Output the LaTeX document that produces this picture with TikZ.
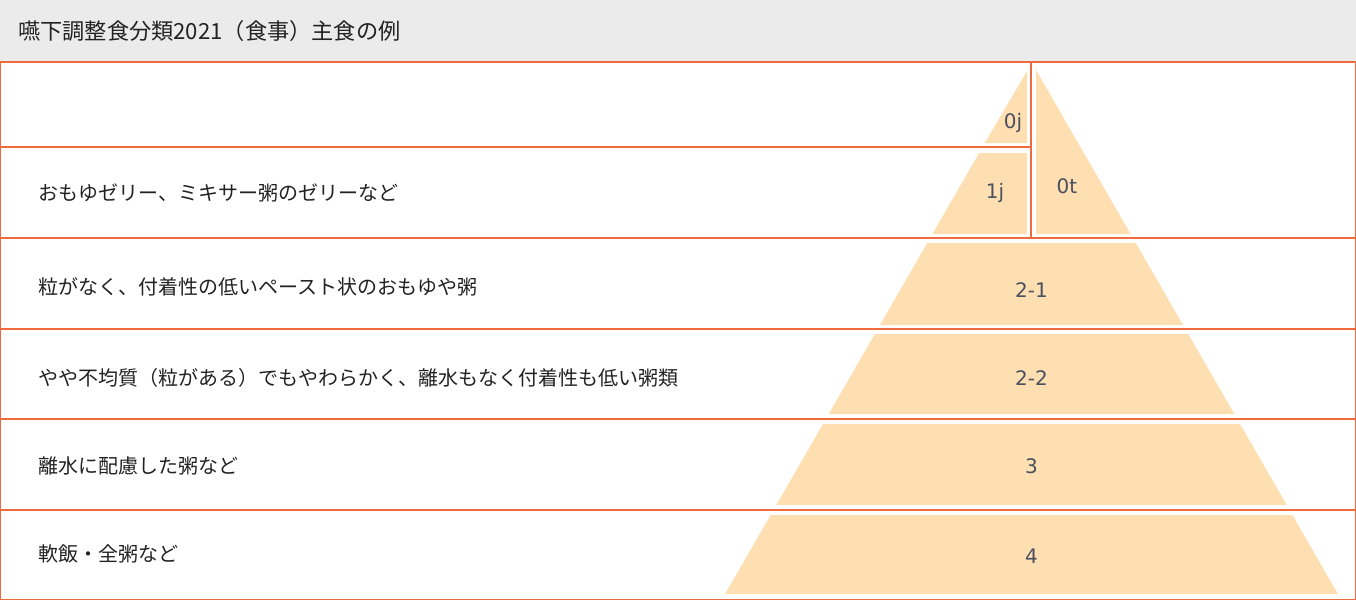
\documentclass[tikz,border=0pt]{standalone}
\usepackage{fontspec}
\newfontfamily\jp{Noto Sans CJK JP}
\newfontfamily\numf{DejaVu Sans}
\definecolor{ln}{HTML}{EF6A3C}
\definecolor{pk}{HTML}{FDDFB1}
\definecolor{tg}{HTML}{EBEBEB}
\definecolor{lb}{HTML}{4A5060}
\definecolor{tx}{HTML}{222222}
\begin{document}
\begin{tikzpicture}[x=1pt,y=-1pt,
  rowline/.style={ln,line width=1.4pt},
  band/.style={fill=pk,draw=none},
  lvl/.style={text=lb,font=\numf\fontsize{20}{20}\selectfont,inner sep=0pt},
  rowtext/.style={anchor=west,text=tx,font=\jp\fontsize{20}{20}\selectfont,inner sep=0pt}]
\useasboundingbox (0,0) rectangle (1356,600);
\fill[tg] (0,0) rectangle (1356,62);
\node[anchor=west,text=tx,font=\jp\fontsize{22.2}{22.2}\selectfont,inner sep=0pt] (title) at (18,31) {嚥下調整食分類2021（食事）主食の例};
% pyramid bands
\fill[band] (1027,71) -- (1027,143) -- (984.8,143) -- cycle;
\fill[band] (1036,70) -- (1036,234) -- (1130.6,234) -- cycle;
\fill[band] (979.1,153) -- (1027,153) -- (1027,234) -- (932.4,234) -- cycle;
\fill[band] (927.2,243) -- (1135.8,243) -- (1183,325) -- (880,325) -- cycle;
\fill[band] (874.8,334) -- (1188.2,334) -- (1234.3,414) -- (828.7,414) -- cycle;
\fill[band] (823,424) -- (1240,424) -- (1286.7,505) -- (776.3,505) -- cycle;
\fill[band] (770.6,515) -- (1292.4,515) -- (1337.9,594) -- (725.1,594) -- cycle;
% grid
\coordinate (tl) at (0.7,62);
\coordinate (br) at (1355.3,599.3);
\draw[rowline] (tl) rectangle (br);
\coordinate (a1) at (0,147);
\coordinate (a2) at (1031,147);
\draw[rowline] (a1) -- (a2);
\coordinate (v1) at (1031,62);
\coordinate (v2) at (1031,238);
\draw[rowline] (v1) -- (v2);
\foreach \yy/\nm in {238/r2,329/r3,419/r4,510/r5}{
  \coordinate (\nm l) at (0,\yy);
  \coordinate (\nm r) at (1356,\yy);
  \draw[rowline] (\nm l) -- (\nm r);
}
% level labels
\node[lvl] (l0j) at (1013,123) {0j};
\node[lvl] (l1j) at (995,193) {1j};
\node[lvl] (l0t) at (1067,186) {0t};
\node[lvl] (l21) at (1031.5,290) {2-1};
\node[lvl] (l22) at (1031.5,378) {2-2};
\node[lvl] (l3) at (1031.5,466) {3};
\node[lvl] (l4) at (1031.5,556) {4};
% row texts
\node[rowtext] (t1) at (38,193) {おもゆゼリー、ミキサー粥のゼリーなど};
\node[rowtext] (t2) at (38,287) {粒がなく、付着性の低いペースト状のおもゆや粥};
\node[rowtext] (t3) at (38,378) {やや不均質（粒がある）でもやわらかく、離水もなく付着性も低い粥類};
\node[rowtext] (t4) at (38,466) {離水に配慮した粥など};
\node[rowtext] (t5) at (38,554) {軟飯・全粥など};
\end{tikzpicture}
\end{document}
